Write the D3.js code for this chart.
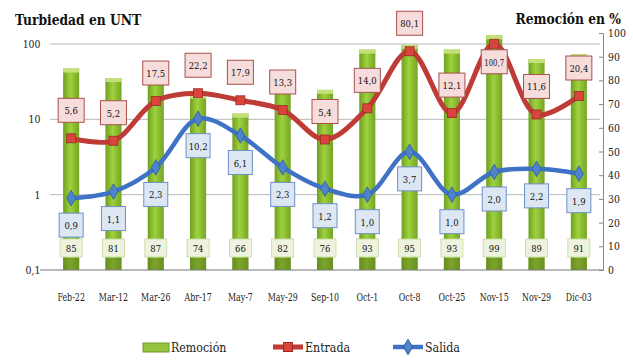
<!DOCTYPE html>
<html><head><meta charset="utf-8">
<script src="https://cdn.jsdelivr.net/npm/d3@7"></script>
<style>body{margin:0;background:#fff}</style>
</head><body>
<svg id="c" width="633" height="360"></svg>
<script>
const categories = ["Feb-22","Mar-12","Mar-26","Abr-17","May-7","May-29","Sep-10","Oct-1","Oct-8","Oct-25","Nov-15","Nov-29","Dic-03"];
const remocion = [85, 81, 87, 74, 66, 82, 76, 93, 95, 93, 99, 89, 91];
const entrada  = [5.6, 5.2, 17.5, 22.2, 17.9, 13.3, 5.4, 14.0, 80.1, 12.1, 100.7, 11.6, 20.4];
const salida   = [0.9, 1.1, 2.3, 10.2, 6.1, 2.3, 1.2, 1.0, 3.7, 1.0, 2.0, 2.2, 1.9];
const leftTicks = [0.1, 1, 10, 100];
const rightTicks = [0,10,20,30,40,50,60,70,80,90,100];

const FONT = "DejaVu Serif";
const svg = d3.select("#c").attr("font-family", FONT);
const L = 50, R = 600, B = 270;
const x = d3.scaleBand().domain(categories).range([L, R]).paddingInner(0.62).paddingOuter(0.31);
const cx = d => x(d) + x.bandwidth()/2;
const yL = d3.scaleLog().domain([0.1, 100]).range([B, 44]);
const yR = d3.scaleLinear().domain([0, 100]).range([B, 33]);
const dec = d3.format(".1f");
const fmt = v => dec(v).replace(".", ",");

const defs = svg.append("defs");
const g1 = defs.append("linearGradient").attr("id","gbar").attr("x1","0").attr("x2","1").attr("y1","0").attr("y2","0");
g1.append("stop").attr("offset","0%").attr("stop-color","#6f9f1f");
g1.append("stop").attr("offset","45%").attr("stop-color","#9fd23e");
g1.append("stop").attr("offset","100%").attr("stop-color","#74a424");

// titles
svg.append("g").attr("transform","translate(15,25) scale(0.82,1)")
  .append("text").attr("font-size",15).attr("font-weight","bold").attr("fill","#111").text("Turbiedad en UNT");
svg.append("g").attr("transform","translate(621,24) scale(0.82,1)")
  .append("text").attr("text-anchor","end").attr("font-size",15).attr("font-weight","bold").attr("fill","#111").text("Remoción en %");

// gridlines (left log axis)
svg.append("g").selectAll("line").data(leftTicks.slice(1)).join("line")
  .attr("x1",L).attr("x2",R).attr("y1",d=>yL(d)).attr("y2",d=>yL(d))
  .attr("stroke","#b8b8b8").attr("stroke-width",1);

// left axis
const la = svg.append("g").attr("transform",`translate(${L-7},0)`)
  .call(d3.axisLeft(yL).tickValues(leftTicks).tickSize(0).tickFormat(d=>String(d).replace(".",",")));
la.select(".domain").remove();
la.selectAll("text").attr("font-size",11).attr("font-family",FONT).attr("fill","#222").attr("transform","scale(0.85,1)");

// right axis
const ra = svg.append("g").attr("transform",`translate(${R+3},0)`)
  .call(d3.axisRight(yR).tickValues(rightTicks).tickSize(-4).tickPadding(6));
ra.select(".domain").attr("stroke","#888");
ra.selectAll(".tick line").attr("stroke","#888");
ra.selectAll("text").attr("font-size",11).attr("font-family",FONT).attr("fill","#222").attr("transform","scale(0.85,1)");

// bars
svg.append("g").selectAll("rect").data(categories).join("rect")
  .attr("x",d=>x(d)).attr("width",x.bandwidth())
  .attr("y",(d,i)=>yR(remocion[i])).attr("height",(d,i)=>B-yR(remocion[i]))
  .attr("fill","url(#gbar)");
svg.append("g").selectAll("rect").data(categories).join("rect")
  .attr("x",d=>x(d)).attr("width",x.bandwidth())
  .attr("y",(d,i)=>yR(remocion[i])).attr("height",4)
  .attr("fill","#c4e07a");
svg.append("g").selectAll("rect").data(categories).join("rect")
  .attr("x",d=>x(d)).attr("width",x.bandwidth())
  .attr("y",B-12).attr("height",12)
  .attr("fill","#5f7f1c").attr("opacity",0.55);

// bottom axis line
svg.append("line").attr("x1",L-10).attr("x2",R+3).attr("y1",B).attr("y2",B).attr("stroke","#777").attr("stroke-width",1.2);

// x labels
const xa = svg.append("g").attr("transform",`translate(0,${B+20})`)
  .call(d3.axisBottom(x).tickSize(0));
xa.select(".domain").remove();
xa.selectAll("text").attr("font-size",11).attr("font-family",FONT).attr("fill","#222")
  .attr("transform","scale(0.72,1)");

// remocion labels
const rl = svg.append("g").selectAll("g").data(categories).join("g")
  .attr("transform",d=>`translate(${cx(d)},248)`);
rl.append("rect").attr("x",-11).attr("y",-9).attr("width",22).attr("height",18)
  .attr("fill","#eef3df").attr("stroke","#c6d89f").attr("stroke-width",0.8);
rl.append("text").attr("text-anchor","middle").attr("y",4).attr("font-size",10).attr("fill","#111")
  .attr("transform","scale(0.85,1)").text((d,i)=>remocion[i]);

// lines
const curve = d3.curveCatmullRom.alpha(0.5);
const lineE = d3.line().x((d,i)=>cx(categories[i])).y(d=>yL(d)).curve(curve);
svg.append("path").attr("d",lineE(entrada)).attr("fill","none").attr("stroke","#bf3b35").attr("stroke-width",5);
svg.append("g").selectAll("rect").data(entrada).join("rect")
  .attr("x",(d,i)=>cx(categories[i])-4.5).attr("y",d=>yL(d)-4.5).attr("width",9).attr("height",9)
  .attr("fill","#d9453c").attr("stroke","#9e2a25").attr("stroke-width",0.8);

const lineS = d3.line().x((d,i)=>cx(categories[i])).y(d=>yL(d)).curve(curve);
svg.append("path").attr("d",lineS(salida)).attr("fill","none").attr("stroke","#3d72c6").attr("stroke-width",4.5);
svg.append("g").selectAll("path").data(salida).join("path")
  .attr("d",d3.symbol(d3.symbolDiamond,70))
  .attr("transform",(d,i)=>`translate(${cx(categories[i])},${yL(d)})`)
  .attr("fill","#4f84cc").attr("stroke","#2c5aa0").attr("stroke-width",0.8);

// entrada labels (above marker, below if no room)
const el = svg.append("g").selectAll("g").data(entrada).join("g")
  .attr("transform",(d,i)=>{ const y = yL(d); const ly = (y - 28 < 20) ? y + 18 : y - 28; return `translate(${cx(categories[i])},${ly})`; });
el.append("rect").attr("x",-13).attr("y",-12).attr("width",26).attr("height",24)
  .attr("fill","#f6dcdb").attr("stroke","#a8504b").attr("stroke-width",1);
el.append("text").attr("text-anchor","middle").attr("y",4).attr("font-size",10).attr("fill","#111")
  .attr("transform",d=>fmt(d).length>4?"scale(0.7,1)":"scale(0.85,1)")
  .text(d=>fmt(d));

// salida labels
const sl = svg.append("g").selectAll("g").data(salida).join("g")
  .attr("transform",(d,i)=>`translate(${cx(categories[i])},${yL(d)+27})`);
sl.append("rect").attr("x",-12).attr("y",-12).attr("width",24).attr("height",24)
  .attr("fill","#dde7f3").attr("stroke","#6e90c6").attr("stroke-width",1);
sl.append("text").attr("text-anchor","middle").attr("y",4).attr("font-size",10).attr("fill","#111")
  .attr("transform","scale(0.85,1)").text(d=>fmt(d));

// legend
const lg = svg.append("g");
lg.append("rect").attr("x",143).attr("y",343).attr("width",26).attr("height",9).attr("fill","#95c43e").attr("stroke","#6f9a26");
lg.append("g").attr("transform","translate(171,352) scale(0.85,1)").append("text").attr("font-size",13).attr("fill","#222").text("Remoción");
lg.append("line").attr("x1",273).attr("x2",303).attr("y1",347).attr("y2",347).attr("stroke","#bf3b35").attr("stroke-width",5);
lg.append("rect").attr("x",283.5).attr("y",342.5).attr("width",9).attr("height",9).attr("fill","#d9453c").attr("stroke","#9e2a25");
lg.append("g").attr("transform","translate(305,352) scale(0.85,1)").append("text").attr("font-size",13).attr("fill","#222").text("Entrada");
lg.append("line").attr("x1",393).attr("x2",423).attr("y1",347).attr("y2",347).attr("stroke","#3d72c6").attr("stroke-width",4.5);
lg.append("path").attr("d",d3.symbol(d3.symbolDiamond,70)).attr("transform","translate(408,347)").attr("fill","#4f84cc").attr("stroke","#2c5aa0");
lg.append("g").attr("transform","translate(425,352) scale(0.85,1)").append("text").attr("font-size",13).attr("fill","#222").text("Salida");
</script>
</body></html>
